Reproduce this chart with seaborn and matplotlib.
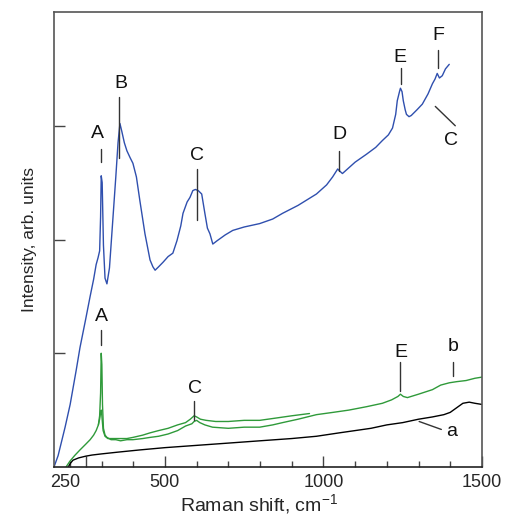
import numpy as np
import pandas as pd
import matplotlib
matplotlib.use("Agg")
import matplotlib.pyplot as plt
import matplotlib.transforms as mtransforms
import seaborn as sns

# ---- data ----
blue_x = [150, 163, 185, 201, 220, 232, 250, 264, 275, 283, 289, 294, 297, 299, 302, 306, 311, 317,
          325, 335, 345, 352, 358, 364, 372, 380, 390, 399, 410, 421, 437, 453, 462, 469, 480, 494,
          510, 525, 538, 550, 557, 570, 579, 588, 596, 605, 616, 626, 634, 642, 651, 665, 690, 714,
          750, 799, 840, 871, 920, 978, 1010, 1029, 1045, 1052, 1060, 1100, 1136, 1165, 1186, 1205,
          1218, 1228, 1233, 1240, 1243, 1248, 1252, 1258, 1262, 1270, 1277, 1295, 1312, 1330, 1344,
          1352, 1359, 1366, 1375, 1385, 1397]
blue_y = [0.00, 0.10, 0.35, 0.55, 0.85, 1.05, 1.30, 1.50, 1.65, 1.78, 1.84, 1.90, 2.20, 2.56, 2.50,
          1.95, 1.66, 1.61, 1.75, 2.15, 2.55, 2.85, 3.02, 2.95, 2.85, 2.78, 2.72, 2.67, 2.55, 2.34,
          2.05, 1.82, 1.76, 1.73, 1.76, 1.80, 1.85, 1.88, 1.99, 2.12, 2.23, 2.33, 2.37, 2.43, 2.44,
          2.43, 2.40, 2.23, 2.10, 2.05, 1.96, 1.99, 2.04, 2.08, 2.11, 2.14, 2.18, 2.23, 2.30, 2.40,
          2.48, 2.55, 2.62, 2.60, 2.58, 2.68, 2.75, 2.81, 2.87, 2.92, 2.98, 3.10, 3.22, 3.30, 3.33,
          3.30, 3.22, 3.14, 3.10, 3.08, 3.09, 3.14, 3.19, 3.28, 3.37, 3.41, 3.46, 3.42, 3.44, 3.50,
          3.54]

green1_x = [188, 200, 215, 232, 250, 264, 275, 283, 290, 294, 297, 299, 301, 303, 306, 311, 317,
            330, 345, 360, 380, 399, 430, 453, 480, 510, 540, 565, 585, 592, 600, 610, 626, 650,
            700, 750, 799, 840, 871, 920, 978, 1030, 1080, 1136, 1186, 1215, 1235, 1243, 1252,
            1265, 1300, 1344, 1370, 1397, 1420, 1450, 1478, 1500]
green1_y = [0.00, 0.05, 0.10, 0.15, 0.20, 0.24, 0.28, 0.32, 0.37, 0.45, 0.65, 1.00, 0.90, 0.55,
            0.34, 0.28, 0.26, 0.24, 0.24, 0.23, 0.24, 0.24, 0.25, 0.26, 0.27, 0.29, 0.32, 0.36,
            0.38, 0.40, 0.41, 0.39, 0.37, 0.35, 0.34, 0.35, 0.35, 0.37, 0.39, 0.42, 0.46, 0.48,
            0.50, 0.53, 0.56, 0.59, 0.62, 0.64, 0.62, 0.61, 0.64, 0.68, 0.72, 0.74, 0.75, 0.76,
            0.78, 0.79]

green2_x = [290, 294, 297, 299, 301, 305, 311, 320, 345, 380, 399, 430, 453, 480, 510, 540, 565,
            580, 592, 600, 612, 630, 660, 700, 750, 799, 850, 900, 956]
green2_y = [0.37, 0.42, 0.48, 0.50, 0.45, 0.32, 0.27, 0.25, 0.25, 0.25, 0.26, 0.28, 0.30, 0.32,
            0.34, 0.37, 0.39, 0.42, 0.45, 0.44, 0.42, 0.41, 0.40, 0.40, 0.41, 0.41, 0.43, 0.45,
            0.47]

black_x = [195, 201, 210, 228, 250, 270, 300, 350, 421, 500, 600, 700, 799, 900, 978, 1050,
           1100, 1150, 1200, 1250, 1300, 1344, 1380, 1400, 1420, 1440, 1460, 1478, 1500]
black_y = [0.00, 0.03, 0.06, 0.08, 0.095, 0.105, 0.115, 0.13, 0.15, 0.17, 0.19, 0.21, 0.23,
           0.25, 0.27, 0.30, 0.32, 0.34, 0.37, 0.39, 0.42, 0.44, 0.46, 0.48, 0.52, 0.56, 0.57,
           0.56, 0.55]

x_ticks = [250, 500, 1000, 1500]
x_ticklabels = ["250", "500", "1000", "1500"]

# annotations: (label, text_x, text_y, line_x0, line_y0, line_x1, line_y1)
labels_txt = ["A", "B", "C", "D", "E", "F", "C", "A", "C", "E", "b", "a"]
labels_tx = [287, 361, 601, 1050, 1240, 1363, 1403, 299, 595, 1243, 1409, 1403]
labels_ty = [2.93, 3.37, 2.74, 2.92, 3.60, 3.79, 2.87, 1.32, 0.69, 1.01, 1.06, 0.31]
lines_x0 = [299, 355, 601, 1048, 1246, 1363, 1353, 299, 592, 1243, 1410, 1302]
lines_y0 = [2.80, 3.25, 2.62, 2.78, 3.51, 3.67, 3.17, 1.20, 0.58, 0.92, 0.92, 0.40]
lines_x1 = [299, 355, 601, 1048, 1246, 1363, 1416, 299, 592, 1243, 1410, 1372]
lines_y1 = [2.68, 2.72, 2.17, 2.60, 3.37, 3.51, 3.00, 1.07, 0.41, 0.67, 0.80, 0.33]

# ---- styling ----
sns.set_style("ticks")
plt.rcParams["font.family"] = ["Liberation Sans", "DejaVu Sans"]
plt.rcParams["mathtext.fontset"] = "custom"
plt.rcParams["mathtext.rm"] = "Liberation Sans"
plt.rcParams["mathtext.it"] = "Liberation Sans"

fig = plt.figure(figsize=(5.07, 5.16), dpi=100)
ax = fig.add_axes([0.1065, 0.095, 0.844, 0.8817])

blue = "#2f4fae"
green = "#2f9a3a"

frames = [
    (pd.DataFrame({"x": black_x, "y": black_y}), "black"),
    (pd.DataFrame({"x": green2_x, "y": green2_y}), green),
    (pd.DataFrame({"x": green1_x, "y": green1_y}), green),
    (pd.DataFrame({"x": blue_x, "y": blue_y}), blue),
]
for df, c in frames:
    sns.lineplot(data=df, x="x", y="y", ax=ax, color=c, lw=1.0, sort=False)

ax.set_xlim(150, 1500)
ax.set_ylim(0, 4)
ax.set_xticks(x_ticks)
ax.set_xticklabels(x_ticklabels)
ax.set_xticks(np.arange(200, 1500, 100), minor=True)
ax.set_yticks([1, 2, 3])
ax.set_yticklabels([])
ax.tick_params(axis="both", which="major", direction="in", length=8, width=1, color="#444444",
               labelsize=13, pad=5)
ax.tick_params(axis="x", which="minor", direction="in", length=4, width=1, color="#444444")
ax.tick_params(axis="y", which="minor", left=False)
for sp in ax.spines.values():
    sp.set_visible(True)
    sp.set_color("#555555")
    sp.set_linewidth(1.2)
ax.spines["bottom"].set_color("#222222")

# shift the "250" label to where the reference places it
offset = mtransforms.ScaledTranslation(-21 / 100, 0, fig.dpi_scale_trans)
lbl = ax.get_xticklabels()[0]
lbl.set_transform(lbl.get_transform() + offset)

ax.set_xlabel("Raman shift, cm$^{-1}$", fontsize=14)
ax.set_ylabel("Intensity, arb. units", fontsize=12.5)
ax.xaxis.set_label_coords(0.479, -0.056)
ax.yaxis.set_label_coords(-0.040, 0.5)
ax.grid(False)

for t, tx, ty, x0, y0, x1, y1 in zip(labels_txt, labels_tx, labels_ty, lines_x0, lines_y0,
                                     lines_x1, lines_y1):
    ax.text(tx, ty, t, fontsize=14, ha="center", va="center", color="#111111")
    ax.plot([x0, x1], [y0, y1], color="#333333", lw=1.0)

fig.savefig("out.png", dpi=100)
